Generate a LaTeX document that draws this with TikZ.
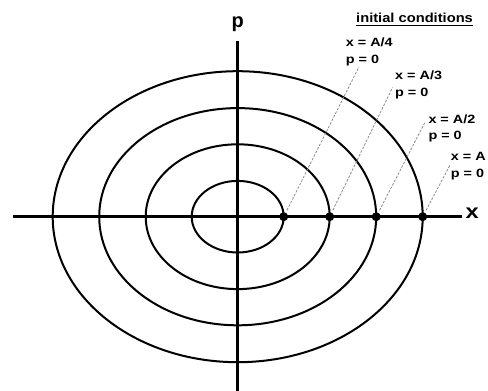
\documentclass[tikz,border=0pt]{standalone}
\usepackage{fontspec}
\usepackage{graphicx}
\setmainfont{Liberation Sans}
\begin{document}
\begin{tikzpicture}[x=1pt,y=-1pt,
  axis/.style={line width=2.8pt},
  orbit/.style={line width=2pt},
  dot/.style={circle,fill=black,inner sep=0pt,minimum size=9pt},
  guide/.style={draw=black!45,line width=0.8pt,dash pattern=on 2.5pt off 1.5pt,shorten <=2.5pt},
  lab/.style={inner sep=0pt,anchor=base west,font=\fontsize{12}{14}\selectfont\bfseries},
  axlab/.style={inner sep=0pt,anchor=base,font=\fontsize{20}{24}\selectfont\bfseries}
]
\useasboundingbox (0,0) rectangle (488,391);
\coordinate (C) at (237.7,216.7);
% orbits
\draw[orbit] (C) ellipse [x radius=46pt, y radius=35.8pt];
\draw[orbit] (C) ellipse [x radius=92pt, y radius=72.4pt];
\draw[orbit] (C) ellipse [x radius=138.5pt, y radius=108.6pt];
\draw[orbit] (C) ellipse [x radius=185pt, y radius=145.5pt];
% axes
\coordinate (xl) at (13.3,216.7);
\coordinate (xr) at (462.3,216.7);
\coordinate (pt) at (237.7,40.7);
\coordinate (pb) at (237.7,391);
\draw[axis] (xl) -- (xr);
\draw[axis] (pb) -- (pt);
\node[axlab] (plab) at (237.7,27.7) {p};
\node[axlab,anchor=base west] (xlab) at (465.3,218.3) {\scalebox{1.18}[1]{x}};
% dots
\node[dot] (d1) at (283.7,216.7) {};
\node[dot] (d2) at (329.7,216.7) {};
\node[dot] (d3) at (376.2,216.7) {};
\node[dot] (d4) at (422.7,216.7) {};
% labels
\node[lab,font=\fontsize{13}{15}\selectfont\bfseries] (ic) at (356,22.7) {\scalebox{1.13}[1]{initial conditions}};
\draw[line width=1.1pt] ([yshift=-2.6pt]ic.base west) -- ([yshift=-2.6pt]ic.base east);
\node[lab] (l1x) at (345.7,46) {\scalebox{1.2}[1]{x = A/4}};
\node[lab] (l1p) at (345.7,63.3) {\scalebox{1.2}[1]{p = 0}};
\node[lab] (l2x) at (395,79.7) {\scalebox{1.2}[1]{x = A/3}};
\node[lab] (l2p) at (395,96.7) {\scalebox{1.2}[1]{p = 0}};
\node[lab] (l3x) at (428.3,123.3) {\scalebox{1.2}[1]{x = A/2}};
\node[lab] (l3p) at (428.3,139.8) {\scalebox{1.2}[1]{p = 0}};
\node[lab] (l4x) at (450.7,160.3) {\scalebox{1.2}[1]{x = A}};
\node[lab] (l4p) at (450.7,177.5) {\scalebox{1.2}[1]{p = 0}};
% guide lines
\coordinate (t1) at (359,66.7);
\coordinate (t2) at (392.5,87.5);
\coordinate (t3) at (425.3,121.7);
\coordinate (t4) at (450,165);
\draw[guide] (d1) -- (t1);
\draw[guide] (d2) -- (t2);
\draw[guide] (d3) -- (t3);
\draw[guide] (d4) -- (t4);
\end{tikzpicture}
\end{document}
